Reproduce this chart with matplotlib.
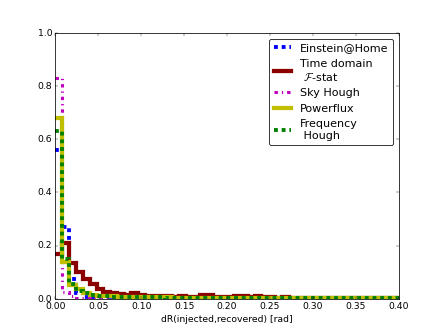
import numpy as np
import matplotlib
matplotlib.use('Agg')
import matplotlib.pyplot as plt

# --- data (fraction of injections per bin) ---
bin_edges = np.linspace(0.0, 0.4, 51)   # 50 bins of 0.008 rad

einstein_home = [0.56, 0.27, 0.075, 0.02, 0.008, 0.004, 0.003, 0.002, 0.001, 0.001,
                 0.001, 0.0, 0.0, 0.0, 0.0, 0.0, 0.0, 0.0, 0.0, 0.0,
                 0.0, 0.0, 0.0, 0.0, 0.0, 0.0, 0.0, 0.0, 0.0, 0.0,
                 0.0, 0.0, 0.0, 0.0, 0.0, 0.0, 0.0, 0.0, 0.0, 0.0,
                 0.0, 0.0, 0.0, 0.0, 0.0, 0.0, 0.0, 0.0, 0.0, 0.0]

time_domain_fstat = [0.17, 0.21, 0.135, 0.10, 0.075, 0.055, 0.035, 0.025, 0.02, 0.018,
                     0.016, 0.02, 0.015, 0.012, 0.012, 0.010, 0.010, 0.008, 0.010, 0.008,
                     0.006, 0.014, 0.016, 0.008, 0.007, 0.006, 0.010, 0.012, 0.006, 0.010,
                     0.006, 0.005, 0.004, 0.005, 0.004, 0.003, 0.004, 0.003, 0.003, 0.004,
                     0.003, 0.003, 0.002, 0.003, 0.002, 0.002, 0.003, 0.002, 0.002, 0.002]

sky_hough = [0.83, 0.025, 0.012, 0.004, 0.002, 0.001, 0.001, 0.0, 0.0, 0.0,
             0.0, 0.0, 0.0, 0.0, 0.0, 0.0, 0.0, 0.0, 0.0, 0.0,
             0.0, 0.0, 0.0, 0.0, 0.0, 0.0, 0.0, 0.0, 0.0, 0.0,
             0.0, 0.0, 0.0, 0.0, 0.0, 0.0, 0.0, 0.0, 0.0, 0.0,
             0.0, 0.0, 0.0, 0.0, 0.0, 0.0, 0.0, 0.0, 0.0, 0.0]

powerflux = [0.68, 0.14, 0.05, 0.035, 0.022, 0.015, 0.012, 0.010, 0.009, 0.008,
             0.007, 0.007, 0.006, 0.006, 0.005, 0.005, 0.005, 0.004, 0.004, 0.004,
             0.004, 0.004, 0.003, 0.003, 0.003, 0.003, 0.003, 0.003, 0.003, 0.003,
             0.003, 0.003, 0.003, 0.003, 0.003, 0.003, 0.003, 0.003, 0.003, 0.003,
             0.003, 0.003, 0.003, 0.003, 0.003, 0.003, 0.003, 0.003, 0.003, 0.003]

frequency_hough = [0.63, 0.15, 0.055, 0.03, 0.02, 0.014, 0.011, 0.009, 0.008, 0.007,
                   0.007, 0.006, 0.006, 0.005, 0.005, 0.005, 0.004, 0.004, 0.004, 0.004,
                   0.004, 0.003, 0.003, 0.003, 0.003, 0.003, 0.003, 0.003, 0.003, 0.003,
                   0.003, 0.003, 0.003, 0.003, 0.003, 0.003, 0.003, 0.003, 0.003, 0.003,
                   0.003, 0.003, 0.003, 0.003, 0.003, 0.003, 0.003, 0.003, 0.003, 0.003]

# old-style matplotlib look, but dash patterns scaled with line width
plt.style.use('classic')
plt.rcParams['lines.scale_dashes'] = True

fig, ax = plt.subplots(figsize=(8, 6))

# draw in legend order so later curves sit on top; baseline=None -> no end edges
ax.stairs(einstein_home, bin_edges, baseline=None, color='b', lw=5,
          linestyle=(0, (1, 1)), label='Einstein@Home')
ax.stairs(time_domain_fstat, bin_edges, baseline=None, color='#8b0000', lw=5.5,
          label='Time domain\n $\\mathcal{F}$-stat')
ax.stairs(sky_hough, bin_edges, baseline=None, color='m', lw=4,
          linestyle=(0, (1.1, 1.3, 0.4, 1.3)), label='Sky Hough')
ax.stairs(powerflux, bin_edges, baseline=None, color='y', lw=5.5, label='Powerflux')
ax.stairs(frequency_hough, bin_edges, baseline=None, color='g', lw=5,
          linestyle=(0, (1, 1)), label='Frequency\n Hough')

ax.set_xlim(0.0, 0.4)
ax.set_ylim(0.0, 1.0)
ax.set_xlabel('dR(injected,recovered) [rad]')

ax.legend(loc='upper right', fancybox=True, handlelength=1.6)

fig.savefig('out.png', dpi=55.375)
